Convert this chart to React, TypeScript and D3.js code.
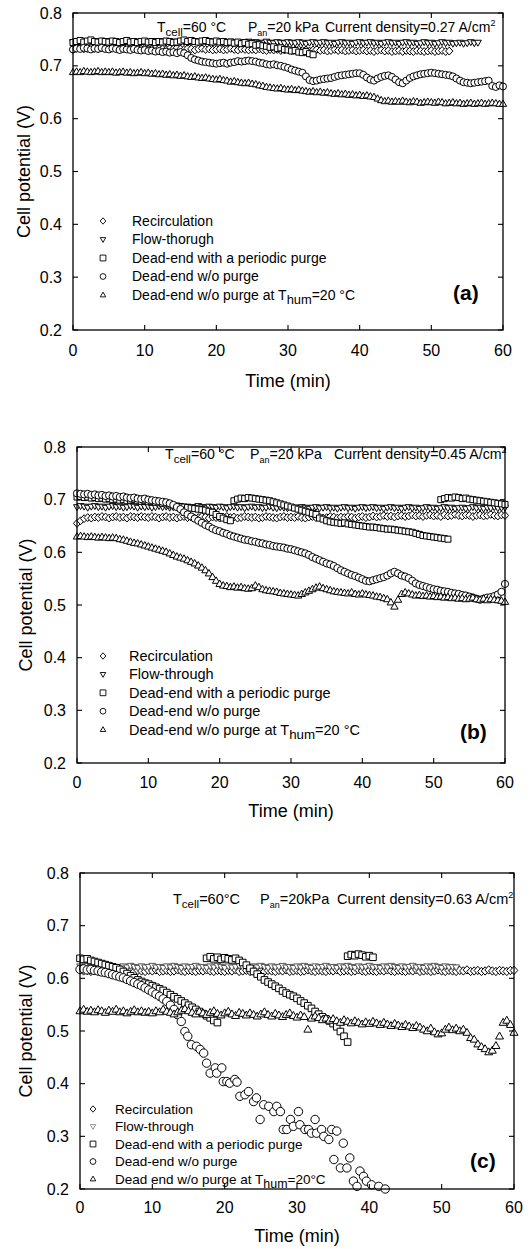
import * as d3 from "d3";

const FONT = '"Liberation Sans", Arial, Helvetica, sans-serif';
const STEP = 0.5; // logging interval of the dense records (min)

// ---------- panel (a) 0.27 A/cm2 ----------
const A_RECIRC = [
  0.731,0.733,0.734,0.732,0.733,0.735,0.733,0.732,0.734,0.733,
  0.732,0.734,0.733,0.731,0.733,0.734,0.732,0.733,0.734,0.732,
  0.733,0.731,0.732,0.734,0.733,0.732,0.731,0.733,0.732,0.734,
  0.732,0.731,0.733,0.732,0.730,0.732,0.733,0.731,0.732,0.730,
  0.731,0.732,0.730,0.731,0.733,0.731,0.730,0.732,0.731,0.730,
  0.731,0.730,0.732,0.730,0.729,0.731,0.730,0.731,0.729,0.730,
  0.731,0.729,0.730,0.731,0.729,0.730,0.728,0.730,0.731,0.729,
  0.730,0.728,0.729,0.731,0.729,0.730,0.728,0.729,0.730,0.728,
  0.729,0.730,0.728,0.729,0.727,0.729,0.730,0.728,0.729,0.727,
  0.728,0.729,0.727,0.729,0.728,0.727,0.729,0.728,0.727,0.728,
  0.729,0.727,0.728,0.729,0.727,0.728,
];
const A_FLOW = [
  0.745,0.747,0.746,0.744,0.746,0.747,0.745,0.746,0.744,0.746,
  0.747,0.745,0.746,0.744,0.745,0.747,0.746,0.744,0.746,0.745,
  0.746,0.744,0.745,0.747,0.745,0.746,0.744,0.745,0.746,0.744,
  0.745,0.746,0.744,0.745,0.747,0.745,0.744,0.746,0.745,0.744,
  0.746,0.745,0.743,0.745,0.746,0.744,0.745,0.743,0.745,0.746,
  0.744,0.745,0.743,0.744,0.746,0.744,0.743,0.745,0.744,0.743,
  0.745,0.744,0.743,0.745,0.744,0.742,0.744,0.745,0.743,0.744,
  0.745,0.743,0.744,0.742,0.744,0.745,0.743,0.744,0.742,0.744,
  0.745,0.743,0.744,0.745,0.743,0.744,0.742,0.744,0.745,0.743,
  0.744,0.742,0.744,0.745,0.743,0.744,0.742,0.743,0.745,0.743,
  0.744,0.742,0.743,0.745,0.743,0.744,0.742,0.743,0.744,0.742,
  0.743,0.745,0.743,0.744,
];
const A_PURGE = [
  0.744,0.746,0.748,0.745,0.747,0.749,0.746,0.745,0.747,0.746,
  0.745,0.747,0.746,0.744,0.746,0.748,0.745,0.746,0.744,0.746,
  0.747,0.745,0.746,0.744,0.746,0.745,0.747,0.746,0.744,0.745,
  0.747,0.749,0.746,0.748,0.746,0.745,0.747,0.748,0.746,0.745,
  0.747,0.745,0.746,0.744,0.745,0.743,0.745,0.742,0.744,0.741,
  0.742,0.739,0.740,0.738,0.737,0.735,0.736,0.733,0.734,0.731,
  0.730,0.728,0.729,0.726,0.725,0.727,0.723,0.721,
];
const A_NOPURGE = [
  0.731,0.733,0.732,0.734,0.733,0.731,0.733,0.732,0.734,0.732,
  0.731,0.733,0.732,0.730,0.732,0.731,0.730,0.732,0.730,0.729,
  0.730,0.728,0.729,0.727,0.728,0.726,0.727,0.725,0.726,0.724,
  0.726,0.724,0.720,0.715,0.712,0.710,0.708,0.707,0.706,0.705,
  0.704,0.705,0.706,0.704,0.706,0.707,0.709,0.708,0.709,0.710,
  0.709,0.708,0.706,0.705,0.703,0.702,0.703,0.701,0.700,0.698,
  0.696,0.693,0.691,0.689,0.687,0.680,0.673,0.671,0.672,0.674,
  0.675,0.676,0.677,0.679,0.681,0.682,0.683,0.684,0.685,0.686,
  0.686,0.683,0.678,0.674,0.672,0.676,0.679,0.681,0.682,0.679,
  0.674,0.669,0.667,0.672,0.677,0.680,0.682,0.684,0.685,0.686,
  0.687,0.686,0.685,0.684,0.683,0.682,0.680,0.676,0.672,0.669,
  0.668,0.667,0.668,0.669,0.670,0.671,0.672,0.662,0.660,0.663,
  0.661,
];
const A_HUM20 = [
  0.688,0.689,0.688,0.690,0.689,0.688,0.689,0.690,0.688,0.689,
  0.688,0.689,0.687,0.688,0.689,0.687,0.688,0.686,0.687,0.688,
  0.686,0.687,0.685,0.686,0.684,0.685,0.683,0.684,0.682,0.683,
  0.681,0.682,0.680,0.679,0.680,0.678,0.677,0.678,0.676,0.675,
  0.674,0.675,0.673,0.672,0.670,0.671,0.669,0.668,0.667,0.668,
  0.666,0.665,0.663,0.662,0.660,0.659,0.658,0.657,0.658,0.656,
  0.655,0.656,0.654,0.655,0.653,0.652,0.651,0.652,0.650,0.651,
  0.649,0.650,0.648,0.647,0.648,0.646,0.647,0.645,0.646,0.644,
  0.645,0.643,0.644,0.642,0.641,0.638,0.635,0.633,0.634,0.632,
  0.633,0.632,0.634,0.632,0.631,0.633,0.632,0.630,0.631,0.632,
  0.631,0.630,0.632,0.631,0.629,0.630,0.631,0.629,0.630,0.628,
  0.629,0.630,0.628,0.629,0.630,0.628,0.629,0.630,0.629,0.628,
  0.628,
];

// ---------- panel (b) 0.45 A/cm2 ----------
const B_RECIRC = [
  0.655,0.660,0.664,0.666,0.665,0.667,0.666,0.668,0.667,0.665,
  0.667,0.668,0.666,0.667,0.665,0.668,0.667,0.666,0.668,0.667,
  0.666,0.668,0.667,0.665,0.667,0.668,0.666,0.667,0.665,0.667,
  0.668,0.666,0.667,0.665,0.666,0.668,0.667,0.665,0.667,0.666,
  0.665,0.667,0.668,0.666,0.667,0.665,0.666,0.668,0.667,0.666,
  0.667,0.665,0.666,0.668,0.667,0.666,0.665,0.667,0.668,0.666,
  0.667,0.666,0.668,0.666,0.665,0.667,0.668,0.666,0.667,0.665,
  0.666,0.668,0.667,0.665,0.667,0.666,0.668,0.667,0.665,0.667,
  0.668,0.666,0.667,0.669,0.667,0.668,0.670,0.668,0.669,0.667,
  0.669,0.670,0.668,0.669,0.671,0.669,0.670,0.668,0.670,0.671,
  0.669,0.670,0.668,0.671,0.669,0.670,0.672,0.670,0.669,0.671,
  0.670,0.668,0.670,0.671,0.669,0.670,0.672,0.670,0.669,0.671,
  0.670,
];
const B_FLOW = [
  0.686,0.688,0.687,0.685,0.687,0.688,0.686,0.687,0.685,0.687,
  0.688,0.686,0.687,0.685,0.686,0.688,0.687,0.685,0.687,0.686,
  0.687,0.685,0.686,0.688,0.686,0.687,0.685,0.686,0.687,0.685,
  0.686,0.687,0.685,0.686,0.688,0.686,0.685,0.687,0.686,0.685,
  0.687,0.686,0.684,0.686,0.687,0.685,0.686,0.684,0.686,0.687,
  0.685,0.686,0.684,0.685,0.687,0.685,0.684,0.686,0.685,0.684,
  0.686,0.685,0.684,0.686,0.685,0.683,0.685,0.686,0.684,0.685,
  0.686,0.684,0.685,0.683,0.685,0.686,0.684,0.685,0.683,0.685,
  0.686,0.684,0.685,0.686,0.684,0.685,0.683,0.685,0.686,0.684,
  0.685,0.683,0.685,0.686,0.684,0.685,0.683,0.684,0.686,0.684,
  0.685,0.683,0.684,0.686,0.684,0.685,0.683,0.684,0.685,0.683,
  0.684,0.686,0.684,0.685,0.683,0.685,0.684,0.686,0.684,0.685,
  0.685,
];
// periodic purge: four logged stretches
const B_PURGE_1 = [ // from 0 min
  0.705,0.706,0.704,0.705,0.703,0.704,0.702,0.703,0.701,0.702,
  0.700,0.701,0.699,0.700,0.698,0.699,0.700,0.698,0.697,0.698,
  0.696,0.697,0.695,0.694,0.693,0.692,0.690,0.689,0.688,0.687,
  0.686,0.685,0.684,0.683,0.682,0.681,0.680,0.678,0.676,0.672,
  0.668,0.665,0.662,0.660,
];
const B_PURGE_2 = [ // from 22 min
  0.698,0.701,0.703,0.702,0.704,0.703,0.702,0.701,0.700,0.699,
  0.698,0.696,0.694,0.692,0.690,0.688,0.686,0.684,0.682,0.680,
  0.678,0.676,0.674,0.672,
];
const B_PURGE_3 = [ // from 34 min
  0.665,0.663,0.660,0.658,0.657,0.656,0.655,0.656,0.654,0.653,
  0.652,0.651,0.650,0.649,0.648,0.648,0.647,0.646,0.645,0.644,
  0.644,0.643,0.642,0.641,0.640,0.639,0.638,0.636,0.634,0.632,
  0.631,0.630,0.629,0.628,0.627,0.626,0.625,
];
const B_PURGE_4 = [ // from 51 min
  0.700,0.702,0.704,0.703,0.705,0.704,0.702,0.703,0.701,0.700,
  0.699,0.698,0.697,0.696,0.695,0.694,0.693,0.692,0.691,
];
const B_NOPURGE = [
  0.712,0.711,0.710,0.711,0.709,0.710,0.708,0.709,0.707,0.708,
  0.706,0.707,0.705,0.706,0.704,0.703,0.704,0.702,0.701,0.702,
  0.700,0.699,0.698,0.697,0.696,0.695,0.693,0.690,0.686,0.682,
  0.676,0.672,0.668,0.664,0.660,0.656,0.652,0.649,0.645,0.642,
  0.640,0.637,0.635,0.632,0.630,0.628,0.626,0.624,0.623,0.621,
  0.620,0.618,0.617,0.615,0.614,0.612,0.611,0.610,0.609,0.607,
  0.606,0.604,0.602,0.600,0.598,0.595,0.591,0.588,0.585,0.582,
  0.579,0.577,0.574,0.570,0.566,0.563,0.560,0.557,0.555,0.552,
  0.549,0.546,0.545,0.547,0.549,0.551,0.553,0.556,0.560,0.563,
  0.560,0.556,0.554,0.551,0.546,0.541,0.538,0.536,0.534,0.532,
  0.530,0.529,0.527,0.526,0.525,0.523,0.522,0.521,0.519,0.518,
  0.516,0.514,0.512,0.510,0.512,0.514,0.515,0.517,0.520,0.525,
  0.540,
];
const B_HUM20 = [
  0.630,0.631,0.630,0.629,0.630,0.629,0.628,0.629,0.628,0.627,
  0.628,0.627,0.625,0.624,0.622,0.620,0.618,0.617,0.615,0.613,
  0.611,0.609,0.607,0.605,0.603,0.601,0.598,0.595,0.592,0.590,
  0.588,0.585,0.582,0.579,0.575,0.571,0.566,0.560,0.553,0.546,
  0.540,0.537,0.536,0.534,0.535,0.533,0.534,0.532,0.531,0.532,
  0.537,0.534,0.530,0.528,0.527,0.526,0.525,0.523,0.522,0.521,
  0.520,0.519,0.518,0.521,0.524,0.527,0.530,0.533,0.535,0.532,
  0.530,0.528,0.526,0.525,0.524,0.523,0.522,0.524,0.521,0.520,
  0.522,0.520,0.519,0.518,0.516,0.515,0.513,0.511,0.505,0.497,
  0.510,0.521,0.524,0.522,0.520,0.518,0.519,0.517,0.518,0.516,
  0.517,0.515,0.516,0.514,0.515,0.513,0.514,0.512,0.513,0.511,
  0.512,0.514,0.511,0.510,0.512,0.509,0.511,0.510,0.509,0.508,
  0.506,
];

// ---------- panel (c) 0.63 A/cm2 ----------
const C_RECIRC = [
  0.616,0.614,0.615,0.613,0.615,0.614,0.616,0.613,0.614,0.615,
  0.613,0.615,0.614,0.616,0.614,0.613,0.615,0.614,0.613,0.615,
  0.614,0.616,0.613,0.614,0.615,0.613,0.614,0.616,0.614,0.613,
  0.615,0.614,0.613,0.615,0.614,0.616,0.614,0.613,0.615,0.614,
  0.613,0.615,0.614,0.616,0.613,0.614,0.615,0.613,0.614,0.616,
  0.614,0.613,0.615,0.614,0.613,0.615,0.614,0.616,0.613,0.614,
  0.615,0.613,0.614,0.616,0.614,0.613,0.615,0.614,0.613,0.615,
  0.614,0.616,0.613,0.614,0.615,0.613,0.614,0.616,0.614,0.613,
  0.615,0.614,0.613,0.615,0.614,0.616,0.614,0.613,0.615,0.614,
  0.613,0.615,0.614,0.616,0.613,0.614,0.615,0.613,0.614,0.616,
  0.614,0.613,0.615,0.614,0.613,0.615,0.614,0.616,0.613,0.614,
  0.615,0.613,0.614,0.616,0.614,0.613,0.615,0.614,0.613,0.615,
  0.615,
];
const C_FLOW = [
  0.623,0.621,0.624,0.622,0.620,0.623,0.621,0.622,0.624,0.621,
  0.622,0.620,0.623,0.621,0.624,0.622,0.620,0.623,0.621,0.622,
  0.624,0.621,0.622,0.620,0.623,0.621,0.624,0.622,0.620,0.623,
  0.621,0.622,0.624,0.621,0.622,0.620,0.623,0.621,0.624,0.622,
  0.620,0.623,0.621,0.622,0.624,0.621,0.622,0.620,0.623,0.621,
  0.624,0.622,0.620,0.623,0.621,0.622,0.624,0.621,0.622,0.620,
  0.623,0.621,0.624,0.622,0.620,0.623,0.621,0.622,0.624,0.621,
  0.622,0.620,0.623,0.621,0.624,0.622,0.620,0.623,0.621,0.622,
  0.624,0.621,0.622,0.620,0.623,0.621,0.624,0.622,0.620,0.623,
  0.621,0.622,0.624,0.621,0.622,0.620,0.623,0.621,0.624,0.622,
  0.620,0.623,0.621,0.622,0.621,
];
const C_PURGE_1 = [ // from 0 min
  0.638,0.636,0.637,0.634,0.632,0.630,0.628,0.626,0.624,0.622,
  0.620,0.617,0.613,0.609,0.605,0.601,0.597,0.594,0.591,0.589,
  0.586,0.583,0.580,0.577,0.573,0.569,0.565,0.561,0.557,0.553,
  0.549,0.545,0.541,0.537,0.533,0.529,0.525,0.520,0.516,
];
const C_PURGE_2 = [ // from 17.5 min
  0.638,0.641,0.637,0.640,0.636,0.639,0.637,0.635,0.638,0.634,
  0.630,0.625,0.619,0.613,0.608,0.603,0.597,0.593,0.589,0.585,
  0.581,0.576,0.572,0.569,0.566,0.562,0.557,0.553,0.548,0.543,
  0.537,0.532,0.527,0.523,0.519,0.514,0.508,0.499,0.490,0.479,
];
const C_PURGE_3 = [0.642,0.645,0.643,0.646,0.644,0.641,0.643,0.640]; // from 37 min
const C_NOPURGE_T = [
  0,0.5,1,1.5,2,2.5,3,3.5,4,4.5,5,5.5,6,6.5,7,7.5,8,8.5,9,9.5,
  10,10.5,11,11.5,12,12.5,13,13.5,14,
  14.5,14.9,15.4,16.1,16.6,17.1,17.5,18,18.7,18.9,
  19.6,19.8,20.3,20.7,21.4,21.7,22.1,22.8,23.3,24,
  24.4,24.9,25.4,26.1,26.8,27.2,27.7,28.1,28.6,29.1,
  29.5,30.2,30.4,31.1,31.6,32,32.5,32.7,33.4,33.7,
  34.4,34.8,35.1,35.5,36,36.4,36.9,37.3,37.8,38.3,
  38.7,39.2,39.6,40.3,41.3,42.2,
];
const C_NOPURGE_V = [
  0.617,0.618,0.616,0.617,0.615,0.614,0.612,0.611,0.609,0.607,
  0.605,0.603,0.601,0.598,0.595,0.592,0.589,0.586,0.582,0.578,
  0.574,0.570,0.566,0.561,0.556,0.549,0.541,0.531,0.518,
  0.499,0.490,0.474,0.471,0.465,0.458,0.439,0.420,0.430,0.420,
  0.430,0.404,0.404,0.401,0.408,0.403,0.376,0.379,0.385,0.366,
  0.373,0.332,0.360,0.357,0.347,0.357,0.347,0.313,0.313,0.332,
  0.319,0.347,0.322,0.313,0.313,0.306,0.332,0.306,0.313,0.300,
  0.294,0.313,0.256,0.310,0.240,0.287,0.240,0.259,0.215,0.205,
  0.234,0.224,0.215,0.208,0.205,0.200,
];
const C_HUM20 = [
  0.538,0.541,0.537,0.539,0.536,0.540,0.538,0.535,0.539,0.537,
  0.541,0.536,0.538,0.534,0.537,0.540,0.536,0.538,0.535,0.537,
  0.534,0.538,0.536,0.541,0.537,0.535,0.532,0.536,0.539,0.542,
  0.538,0.535,0.532,0.537,0.534,0.531,0.535,0.538,0.533,0.530,
  0.534,0.537,0.532,0.529,0.535,0.533,0.530,0.534,0.531,0.528,
  0.532,0.536,0.531,0.528,0.533,0.530,0.527,0.531,0.534,0.529,
  0.526,0.530,0.527,0.503,0.524,0.528,0.525,0.521,0.524,0.520,
  0.523,0.519,0.516,0.521,0.518,0.515,0.519,0.516,0.513,0.517,
  0.514,0.518,0.515,0.512,0.516,0.513,0.510,0.514,0.511,0.508,
  0.512,0.509,0.506,0.510,0.507,0.503,0.500,0.505,0.498,0.494,
  0.496,0.503,0.507,0.502,0.505,0.500,0.503,0.497,0.487,0.484,
  0.475,0.470,0.466,0.460,0.463,0.472,0.490,0.516,0.520,0.512,
  0.497,
];

const X_TICKS = [0, 10, 20, 30, 40, 50, 60];
const Y_TICKS = [0.2, 0.3, 0.4, 0.5, 0.6, 0.7, 0.8];

type Shape = "diamond" | "triDown" | "square" | "circle" | "triUp";
type Pt = [number, number];

function markerPath(shape: Shape, r: number) {
  switch (shape) {
    case "circle":
      return `M${-r},0a${r},${r} 0 1,0 ${2 * r},0a${r},${r} 0 1,0 ${-2 * r},0Z`;
    case "square":
      return `M${-r},${-r}h${2 * r}v${2 * r}h${-2 * r}Z`;
    case "diamond":
      return `M0,${-r * 1.1}L${r},0L0,${r * 1.1}L${-r},0Z`;
    case "triUp":
      return `M0,${-r}L${r * 0.95},${r * 0.65}L${-r * 0.95},${r * 0.65}Z`;
    case "triDown":
      return `M0,${r}L${r * 0.95},${-r * 0.65}L${-r * 0.95},${-r * 0.65}Z`;
  }
}

const grid = (t0: number, v: number[]): Pt[] => v.map((d, i) => [t0 + i * STEP, d]);
const zip = (t: number[], v: number[]): Pt[] =>
  t.slice(0, v.length).map((d, i) => [d, v[i]]);

const SHAPES: Shape[] = ["diamond", "triDown", "square", "circle", "triUp"];

interface Series { shape: Shape; r: number; pts: Pt[]; stroke?: string }
interface LegendItem { text: string; sub?: string; after?: string }
interface Panel {
  id: string;
  left: number; right: number; top: number; bottom: number;
  series: Series[];
  legend: { mx: number; tx: number; y0: number; dy: number; fs: number; items: LegendItem[]; faint?: number };
  note: { y: number; fs: number; xs: number[]; t: string; p: string; cd: string };
  letter: { x: number; y: number };
  xLabY: number; tickLabY: number; yLabX: number;
}

const PANELS: Panel[] = [
  {
    id: "(a)", left: 73, right: 503, top: 13, bottom: 330,
    series: [
      { shape: "diamond", r: 3.6, pts: grid(0, A_RECIRC) },
      { shape: "triDown", r: 3.6, pts: grid(0, A_FLOW) },
      { shape: "square", r: 3.0, pts: grid(0, A_PURGE) },
      { shape: "circle", r: 3.5, pts: grid(0, A_NOPURGE) },
      { shape: "triUp", r: 3.8, pts: grid(0, A_HUM20) },
    ],
    legend: {
      mx: 103, tx: 132, y0: 221, dy: 18.5, fs: 14,
      items: [
        { text: "Recirculation" },
        { text: "Flow-thorugh" },
        { text: "Dead-end with a periodic purge" },
        { text: "Dead-end w/o purge" },
        { text: "Dead-end w/o purge at T", sub: "hum", after: "=20 °C" },
      ],
    },
    note: { y: 32, fs: 14, xs: [157, 248, 325], t: "=60 °C", p: "=20 kPa", cd: "0.27" },
    letter: { x: 453, y: 300 },
    xLabY: 387, tickLabY: 356, yLabX: 30,
  },
  {
    id: "(b)", left: 77, right: 505, top: 447, bottom: 763,
    series: [
      { shape: "diamond", r: 3.6, pts: grid(0, B_RECIRC) },
      { shape: "triDown", r: 3.6, pts: grid(0, B_FLOW) },
      {
        shape: "square", r: 3.0,
        pts: [...grid(0, B_PURGE_1), ...grid(22, B_PURGE_2), ...grid(34, B_PURGE_3), ...grid(51, B_PURGE_4)],
      },
      { shape: "circle", r: 3.6, pts: grid(0, B_NOPURGE) },
      { shape: "triUp", r: 3.9, pts: grid(0, B_HUM20) },
    ],
    legend: {
      mx: 103, tx: 129, y0: 656, dy: 18.4, fs: 14.5,
      items: [
        { text: "Recirculation" },
        { text: "Flow-through" },
        { text: "Dead-end with a periodic purge" },
        { text: "Dead-end w/o purge" },
        { text: "Dead-end w/o purge at T", sub: "hum", after: "=20 °C" },
      ],
    },
    note: { y: 459, fs: 14.2, xs: [165, 250, 334], t: "=60 °C", p: "=20 kPa", cd: "0.45" },
    letter: { x: 460, y: 739 },
    xLabY: 817, tickLabY: 788, yLabX: 32,
  },
  {
    id: "(c)", left: 80, right: 514, top: 873, bottom: 1189,
    series: [
      { shape: "diamond", r: 3.8, pts: grid(0, C_RECIRC) },
      { shape: "triDown", r: 3.6, pts: grid(0, C_FLOW), stroke: "#555" },
      {
        shape: "square", r: 3.3,
        pts: [...grid(0, C_PURGE_1), ...grid(17.5, C_PURGE_2), ...grid(37, C_PURGE_3)],
      },
      { shape: "circle", r: 4.2, pts: zip(C_NOPURGE_T, C_NOPURGE_V) },
      { shape: "triUp", r: 4.2, pts: grid(0, C_HUM20) },
    ],
    legend: {
      mx: 93, tx: 115, y0: 1109, dy: 17.5, fs: 13.5, faint: 1,
      items: [
        { text: "Recirculation" },
        { text: "Flow-through" },
        { text: "Dead-end with a periodic purge" },
        { text: "Dead-end w/o purge" },
        { text: "Dead end w/o purge at T", sub: "hum", after: "=20°C" },
      ],
    },
    note: { y: 904, fs: 14.5, xs: [173, 260, 337], t: "=60°C", p: "=20kPa", cd: "0.63" },
    letter: { x: 470, y: 1168 },
    xLabY: 1242, tickLabY: 1213, yLabX: 32,
  },
];

function ChartPanel({ p }: { p: Panel }) {
  const x = d3.scaleLinear().domain([0, 60]).range([p.left, p.right]);
  const y = d3.scaleLinear().domain([0.2, 0.8]).range([p.bottom, p.top]);
  const fmt = d3.format(".1f");
  const tk = 5;
  const n = p.note;

  return (
    <g>
      {p.series.map((s, si) => (
        <g key={si} fill="#fff" stroke={s.stroke ?? "#000"} strokeWidth={1}>
          {s.pts.map(([t, v], i) => (
            <path key={i} transform={`translate(${x(t)},${y(v)})`} d={markerPath(s.shape, s.r)} />
          ))}
        </g>
      ))}

      <rect x={p.left} y={p.top} width={p.right - p.left} height={p.bottom - p.top}
        fill="none" stroke="#000" strokeWidth={1.3} />

      <g stroke="#000" strokeWidth={1.1}>
        {X_TICKS.map((t) => (
          <g key={t}>
            <line x1={x(t)} x2={x(t)} y1={p.bottom} y2={p.bottom - tk} />
            <line x1={x(t)} x2={x(t)} y1={p.top} y2={p.top + tk} />
          </g>
        ))}
        {Y_TICKS.map((v) => (
          <g key={v}>
            <line x1={p.left} x2={p.left + tk} y1={y(v)} y2={y(v)} />
            <line x1={p.right} x2={p.right - tk} y1={y(v)} y2={y(v)} />
          </g>
        ))}
      </g>

      <g fontSize={16} fill="#000">
        {X_TICKS.map((t) => (
          <text key={t} x={x(t)} y={p.tickLabY} textAnchor="middle">{t}</text>
        ))}
        {Y_TICKS.map((v) => (
          <text key={v} x={p.left - 11} y={y(v)} dy="0.35em" textAnchor="end">{fmt(v)}</text>
        ))}
      </g>

      <text x={(p.left + p.right) / 2} y={p.xLabY} textAnchor="middle" fontSize={18}>Time (min)</text>
      <text transform={`translate(${p.yLabX},${(p.top + p.bottom) / 2}) rotate(-90)`}
        textAnchor="middle" fontSize={18}>Cell potential (V)</text>

      {/* operating conditions */}
      <g fontSize={n.fs} fill="#000">
        <text x={n.xs[0]} y={n.y}>T<tspan dy={3.5} fontSize={11.5}>cell</tspan><tspan dy={-3.5}>{n.t}</tspan></text>
        <text x={n.xs[1]} y={n.y}>P<tspan dy={3.5} fontSize={9}>an</tspan><tspan dy={-3.5}>{n.p}</tspan></text>
        <text x={n.xs[2]} y={n.y}>{`Current density=${n.cd} A/cm`}<tspan dy={-6} fontSize={9}>2</tspan></text>
      </g>

      {/* legend */}
      <g fontSize={p.legend.fs}>
        {p.legend.items.map((it, i) => {
          const ly = p.legend.y0 + i * p.legend.dy;
          const faint = p.legend.faint === i;
          return (
            <g key={i}>
              <path transform={`translate(${p.legend.mx},${ly})`} d={markerPath(SHAPES[i], 2.9)}
                fill="#fff" stroke={faint ? "#888" : "#000"} strokeWidth={0.9} />
              <text x={p.legend.tx} y={ly} dy="0.35em">
                {it.text}
                {it.sub && <tspan dy={4} fontSize={p.legend.fs * 0.92}>{it.sub}</tspan>}
                {it.after && <tspan dy={it.sub ? -4 : 0}>{it.after}</tspan>}
              </text>
            </g>
          );
        })}
      </g>

      <text x={p.letter.x} y={p.letter.y} fontSize={21} fontWeight="bold">{p.id}</text>
    </g>
  );
}

export default function App() {
  return (
    <svg width={530} height={1249} fontFamily={FONT}
      style={{ position: "absolute", left: 0, top: 0, display: "block", background: "#fff" }}>
      <rect width={530} height={1249} fill="#fff" />
      {PANELS.map((p) => <ChartPanel key={p.id} p={p} />)}
    </svg>
  );
}
